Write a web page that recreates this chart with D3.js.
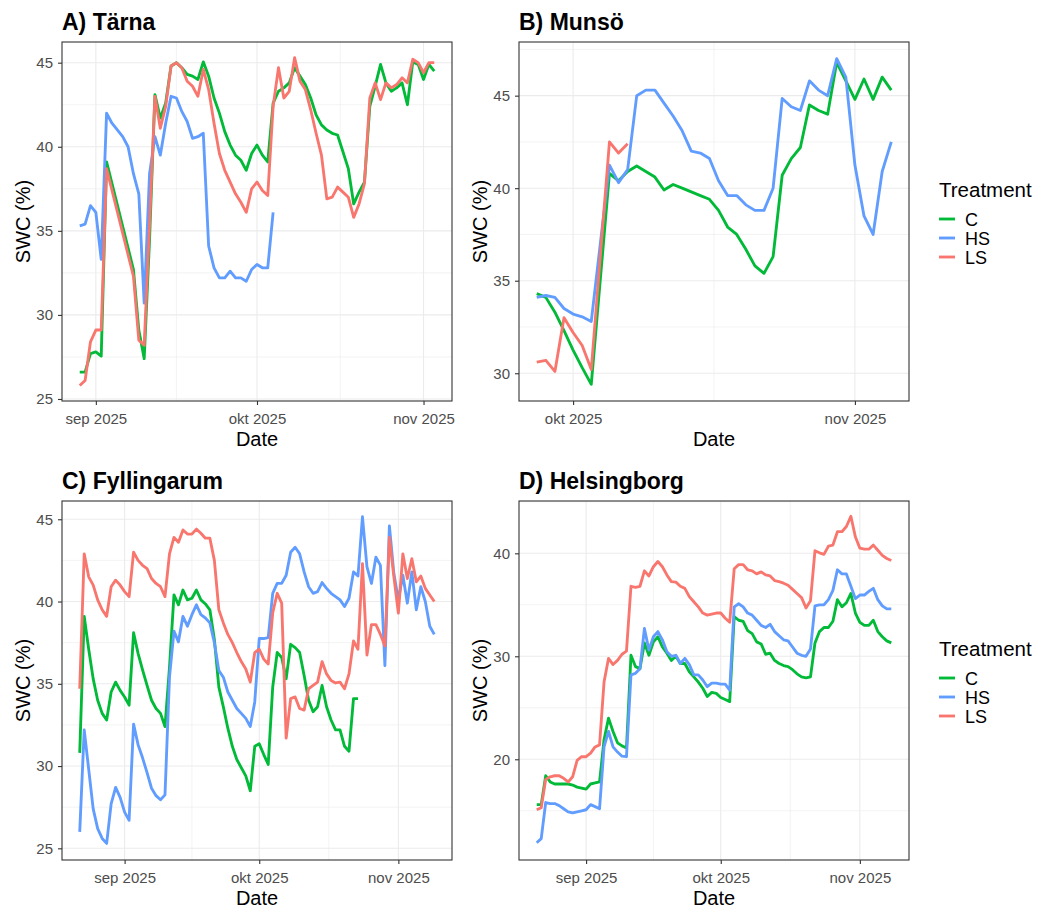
<!DOCTYPE html>
<html>
<head>
<meta charset="utf-8">
<script src="https://cdn.jsdelivr.net/npm/d3@7"></script>
<style>
  body { margin: 0; background: #fff; }
  svg { display: block; }
  text { font-family: "Liberation Sans", Arial, sans-serif; }
</style>
</head>
<body>
<svg id="chart" width="1040" height="909"></svg>
<script>
// Soil water content (SWC, %) per site and treatment.
// Days are counted from 1 September 2025 (day 0).
const treatments = ["C", "HS", "LS"];
const treatmentColours = ["#00BA38", "#619CFF", "#F8766D"];
const monthBreaks = ["2025-09-01", "2025-10-01", "2025-11-01"];
const monthLabels = ["sep 2025", "okt 2025", "nov 2025"];

// A) Tärna
const tarnaDays = [-3, -2, -1, 0, 1, 2, 3, 5, 6, 7, 8, 9, 10, 11, 12, 13, 14, 15, 16, 17, 18, 19, 20, 21, 22,
  23, 24, 25, 26, 27, 28, 29, 30, 31, 32, 33, 34, 35, 36, 37, 38, 39, 40, 41, 42, 43, 44, 45, 46, 47, 48,
  49, 50, 51, 52, 53, 54, 55, 56, 57, 58, 59, 60, 61, 62, 63];
const tarnaC = [26.6, 26.6, 27.7, 27.8, 27.55, 39.1, null, null, null, 32.7, 29.1, 27.4, 34.5, 43.1, 41.7, 42.6,
  44.8, 45.0, 44.7, 44.3, 44.2, 44.0, 45.05, 44.2, 42.9, 42.0, 40.9, 40.1, 39.5, 39.2, 38.6, 39.6, 40.1, 39.5,
  39.1, 42.6, 43.3, 43.5, 43.8, 44.7, 44.2, 43.7, 42.9, 41.9, 41.3, 41.0, 40.8, 40.7, 39.7, 38.7, 36.6, 37.3,
  37.9, 42.4, 43.6, 44.9, 43.8, 43.3, 43.5, 43.8, 42.5, 45.05, 44.9, 44.0, 44.9, 44.5];
const tarnaHS = [35.3, 35.4, 36.5, 36.1, 33.3, 42.0, 41.4, 40.6, 40.0, 38.4, 37.2, 30.7, 38.4, 40.6, 39.5, 41.4,
  43.0, 42.9, 42.1, 41.5, 40.5, 40.6, 40.8, 34.1, 32.8, 32.2, 32.2, 32.6, 32.2, 32.2, 32.0, 32.7, 33.0, 32.8,
  32.8, 36.1, null, null, null, null, null, null, null, null, null, null, null, null, null, null, null, null,
  null, null, null, null, null, null, null, null, null, null, null, null, null, null];
const tarnaLS = [25.8, 26.1, 28.4, 29.1, 29.1, 38.7, null, null, null, 32.3, 28.5, 28.2, 35.4, 43.0, 41.1, 42.4,
  44.8, 45.0, 44.7, 43.9, 43.6, 43.0, 44.6, 43.4, 41.4, 39.6, 38.6, 37.9, 37.2, 36.7, 36.1, 37.5, 37.9, 37.4,
  37.1, 42.4, 44.7, 42.9, 43.3, 45.3, 43.9, 43.4, 42.2, 40.8, 39.5, 36.9, 37.0, 37.6, 37.3, 37.0, 35.8, 36.6,
  37.8, 42.9, 43.8, 42.8, 43.8, 43.5, 43.7, 44.1, 43.8, 45.2, 45.0, 44.4, 45.0, 45.0];

// B) Munsö
const munsoDays = [26, 27, 28, 29, 30, 31, 32, 34, 35, 36, 37, 38, 39, 40, 41, 42, 43, 44, 45, 46, 47, 48, 49,
  50, 51, 52, 53, 54, 55, 56, 57, 58, 59, 60, 61, 62, 63, 64, 65];
const munsoC = [34.3, 34.1, 33.3, 32.3, 31.25, 30.3, 29.4, 40.8, 40.4, 40.9, 41.2, 40.9, 40.6, 39.9, 40.2, 40.0,
  39.8, 39.6, 39.4, 38.8, 37.9, 37.5, 36.7, 35.8, 35.4, 36.3, 40.7, 41.6, 42.2, 44.5, 44.2, 44.0, 46.8, 45.8,
  44.8, 45.9, 44.8, 46.0, 45.3];
const munsoHS = [34.1, 34.2, 34.1, 33.5, 33.2, 33.05, 32.8, 41.25, 40.3, 41.0, 45.0, 45.3, 45.3, 44.6, 43.9, 43.1,
  42.0, 41.9, 41.6, 40.4, 39.6, 39.6, 39.1, 38.8, 38.8, 40.0, 44.85, 44.4, 44.2, 45.8, 45.3, 45.0, 47.0, 46.0,
  41.25, 38.5, 37.5, 40.9, 42.5];
const munsoLS = [30.6, 30.7, 30.1, 33.0, 32.2, 31.5, 30.2, 42.5, 41.9, 42.4, null, null, null, null, null, null,
  null, null, null, null, null, null, null, null, null, null, null, null, null, null, null, null, null, null,
  null, null, null, null, null];

// C) Fyllingarum, daily from day -10 to day 69
const fyllDays = d3.range(-10, 70);
const fyllC = [30.8, 39.1, 37.1, 35.3, 34.0, 33.2, 32.8, 34.5, 35.1, 34.6,
  34.2, 33.7, 38.1, 36.85, 35.85, 34.9, 34.0, 33.5, 33.2, 32.4,
  36.0, 40.4, 39.8, 40.7, 40.1, 40.2, 40.7, 40.1, 39.85, 39.5,
  37.7, 34.8, 33.6, 32.3, 31.2, 30.4, 29.9, 29.4, 28.5, 31.2,
  31.35, 30.7, 30.1, 34.8, 36.9, 36.6, 35.3, 37.4, 37.2, 36.9,
  35.5, 34.0, 33.3, 33.6, 34.9, 33.6, 32.8, 32.2, 32.2, 31.2,
  30.9, 34.1, 34.1, null, null, null, null, null, null, null,
  null, null, null, null, null, null, null, null, null, null];
const fyllHS = [26.0, 32.2, 29.8, 27.4, 26.2, 25.6, 25.3, 27.7, 28.7, 28.1,
  27.2, 26.7, 32.55, 31.3, 30.5, 29.6, 28.65, 28.2, 27.95, 28.25,
  35.4, 38.2, 37.55, 39.1, 38.5, 39.2, 39.8, 39.2, 39.0, 38.7,
  37.5, 35.8, 35.4, 34.5, 34.0, 33.5, 33.2, 32.9, 32.4, 33.9,
  37.75, 37.75, 37.8, 40.5, 41.1, 41.1, 41.6, 43.0, 43.3, 42.9,
  41.8, 40.9, 40.5, 40.6, 41.15, 40.8, 40.5, 40.3, 40.1, 39.7,
  40.2, 41.8, 41.55, 45.15, 42.1, 41.1, 42.7, 42.2, 36.1, 44.6,
  41.7, 40.1, 41.6, 39.9, 41.8, 39.5, 40.9, 40.0, 38.5, 38.0];
const fyllLS = [34.7, 42.9, 41.5, 41.0, 40.1, 39.5, 39.1, 40.9, 41.3, 41.0,
  40.6, 40.3, 43.0, 42.5, 42.2, 42.0, 41.4, 41.1, 40.9, 40.3,
  42.9, 43.9, 43.6, 44.35, 44.1, 44.1, 44.4, 44.15, 43.85, 43.85,
  42.5, 39.5, 38.7, 38.0, 37.5, 36.9, 36.35, 35.9, 35.1, 36.9,
  37.1, 36.5, 36.2, 39.3, 40.5, 39.9, 31.7, 34.1, 34.2, 33.5,
  33.4, 34.7, 34.9, 35.1, 36.35, 35.6, 35.2, 35.05, 35.1, 34.7,
  35.6, 37.6, 37.1, 42.3, 36.75, 38.6, 38.6, 38.0, 37.3, 43.9,
  41.5, 39.3, 42.9, 41.4, 42.6, 41.2, 41.55, 40.8, 40.4, 40.0];

// D) Helsingborg, daily from day -11 to day 68
const hbgDays = d3.range(-11, 69);
const hbgC = [15.6, 15.6, 18.4, 17.8, 17.6, 17.6, 17.6, 17.6, 17.5, 17.3, 17.2,
  17.1, 17.6, 17.7, 17.8, 21.9, 24.0, 22.7, 21.6, 21.3, 21.1,
  30.1, 29.0, 28.8, 31.3, 30.1, 31.4, 31.9, 30.9, 30.3, 29.6,
  30.0, 29.3, 29.3, 28.5, 28.0, 27.5, 26.9, 26.1, 26.5, 26.4,
  26.0, 25.8, 25.6, 33.85, 33.5, 33.4, 32.5, 32.2, 31.4, 31.2,
  30.2, 30.3, 29.6, 29.3, 29.1, 29.0, 28.7, 28.3, 28.0, 27.9,
  28.0, 31.3, 32.4, 32.8, 32.8, 33.4, 35.5, 34.8, 35.2, 36.1,
  34.2, 33.3, 33.0, 33.0, 33.5, 32.4, 31.9, 31.5, 31.3];
const hbgHS = [11.9, 12.3, 15.8, 15.7, 15.7, 15.5, 15.2, 14.9, 14.8, 14.9, 15.0,
  15.1, 15.6, 15.4, 15.2, 21.2, 22.7, 21.2, 20.7, 20.3, 20.25,
  28.2, 28.35, 28.8, 32.7, 30.6, 31.9, 32.4, 31.6, 30.45, 30.0,
  30.1, 29.3, 29.8, 29.2, 28.2, 28.2, 27.7, 27.05, 27.4, 27.4,
  27.3, 27.3, 26.7, 34.8, 35.1, 34.8, 34.2, 34.0, 33.5, 33.0,
  32.8, 33.1, 32.4, 32.0, 31.6, 31.5, 30.9, 30.3, 30.1, 30.0,
  30.7, 34.9, 35.0, 35.0, 35.5, 36.4, 38.4, 38.0, 38.0, 36.8,
  35.6, 35.95, 35.95, 36.3, 36.6, 35.5, 34.9, 34.6, 34.6];
const hbgLS = [15.1, 15.3, 18.05, 18.3, 18.4, 18.4, 18.15, 17.8, 18.3, 19.9, 20.25,
  20.25, 20.6, 21.2, 21.4, 27.5, 29.8, 29.2, 29.6, 30.2, 30.5,
  36.8, 36.7, 36.8, 38.3, 37.8, 38.7, 39.2, 38.7, 37.9, 37.25,
  37.2, 36.8, 36.6, 35.8, 35.3, 34.8, 34.2, 34.0, 34.1, 34.2,
  34.2, 33.7, 33.3, 38.5, 38.9, 38.9, 38.4, 38.3, 38.0, 38.2,
  37.9, 37.8, 37.35, 37.25, 37.1, 36.9, 36.5, 36.1, 35.7, 34.7,
  35.4, 40.25, 40.05, 39.9, 40.7, 40.8, 42.1, 42.1, 42.6, 43.6,
  41.6, 40.5, 40.4, 40.4, 40.8, 40.3, 39.8, 39.5, 39.3];

// Panel layout (pixels), y-axis limits and break spacing
const panelW = 390, panelH = 359;
const panels = [
  { title: "A) Tärna", days: tarnaDays, series: [tarnaC, tarnaHS, tarnaLS], left: 62, top: 42, yDomain: [24.88, 46.23], yStep: 5 },
  { title: "B) Munsö", days: munsoDays, series: [munsoC, munsoHS, munsoLS], left: 519, top: 42, yDomain: [28.5, 47.9], yStep: 5 },
  { title: "C) Fyllingarum", days: fyllDays, series: [fyllC, fyllHS, fyllLS], left: 62, top: 501, yDomain: [24.29, 46.11], yStep: 5 },
  { title: "D) Helsingborg", days: hbgDays, series: [hbgC, hbgHS, hbgLS], left: 519, top: 501, yDomain: [10.22, 45.08], yStep: 10 }
];

const svg = d3.select("#chart");
const dayToDate = d => new Date(Date.UTC(2025, 8, 1 + d));
const breakDates = monthBreaks.map(s => new Date(s + "T00:00:00Z"));

panels.forEach(p => {
  const g = svg.append("g");
  const x0 = p.left, x1 = p.left + panelW, y0 = p.top, y1 = p.top + panelH;

  // x: data extent expanded by 5% on each side
  const used = p.days.filter((d, i) => p.series.some(s => s[i] != null));
  const t0 = dayToDate(d3.min(used)).getTime(), t1 = dayToDate(d3.max(used)).getTime();
  const pad = (t1 - t0) * 0.05;
  const x = d3.scaleUtc().domain([new Date(t0 - pad), new Date(t1 + pad)]).range([x0, x1]);
  const y = d3.scaleLinear().domain(p.yDomain).range([y1, y0]);

  const [xd0, xd1] = x.domain();
  const xMajor = breakDates.filter(d => d >= xd0 && d <= xd1);
  const xMinor = [];
  for (let i = 0; i < breakDates.length - 1; i++) {
    const m = new Date((breakDates[i].getTime() + breakDates[i + 1].getTime()) / 2);
    if (m >= xd0 && m <= xd1) xMinor.push(m);
  }
  const step = p.yStep;
  const yMajor = d3.range(Math.ceil(p.yDomain[0] / step) * step, p.yDomain[1] + 1e-9, step);
  const yMinor = d3.range(yMajor[0] - step / 2, yMajor[yMajor.length - 1] + step, step)
    .filter(v => v >= p.yDomain[0] && v <= p.yDomain[1]);

  // panel background and grid
  g.append("rect").attr("x", x0).attr("y", y0).attr("width", panelW).attr("height", panelH).attr("fill", "#fff");
  const grid = g.append("g").attr("stroke", "#EBEBEB").attr("fill", "none");
  grid.selectAll(".ymin").data(yMinor).join("line")
    .attr("x1", x0).attr("x2", x1).attr("y1", d => y(d)).attr("y2", d => y(d)).attr("stroke-width", 0.6);
  grid.selectAll(".xmin").data(xMinor).join("line")
    .attr("y1", y0).attr("y2", y1).attr("x1", d => x(d)).attr("x2", d => x(d)).attr("stroke-width", 0.6);
  grid.selectAll(".ymaj").data(yMajor).join("line")
    .attr("x1", x0).attr("x2", x1).attr("y1", d => y(d)).attr("y2", d => y(d)).attr("stroke-width", 1.1);
  grid.selectAll(".xmaj").data(xMajor).join("line")
    .attr("y1", y0).attr("y2", y1).attr("x1", d => x(d)).attr("x2", d => x(d)).attr("stroke-width", 1.1);

  // treatment lines
  const line = d3.line().x(d => x(d.date)).y(d => y(d.v));
  p.series.forEach((vals, k) => {
    const pts = p.days.map((d, i) => ({ date: dayToDate(d), v: vals[i] })).filter(d => d.v != null);
    g.append("path").datum(pts)
      .attr("d", line)
      .attr("fill", "none")
      .attr("stroke", treatmentColours[k])
      .attr("stroke-width", 2.85)
      .attr("stroke-linejoin", "round")
      .attr("stroke-linecap", "butt");
  });

  // panel border
  g.append("rect").attr("x", x0).attr("y", y0).attr("width", panelW).attr("height", panelH)
    .attr("fill", "none").attr("stroke", "#333333").attr("stroke-width", 1.1);

  // axes
  const xAxis = d3.axisBottom(x).tickValues(xMajor)
    .tickFormat(d => monthLabels[breakDates.findIndex(b => b.getTime() === d.getTime())])
    .tickSize(4).tickPadding(8);
  const gx = g.append("g").attr("transform", `translate(0,${y1})`).call(xAxis);
  const yAxis = d3.axisLeft(y).tickValues(yMajor).tickSize(4).tickPadding(5);
  const gy = g.append("g").attr("transform", `translate(${x0},0)`).call(yAxis);
  [gx, gy].forEach(a => {
    a.select(".domain").remove();
    a.selectAll(".tick line").attr("stroke", "#333333").attr("stroke-width", 1.1);
    a.selectAll(".tick text").attr("fill", "#4D4D4D").style("font-size", "15px")
      .style("font-family", '"Liberation Sans", Arial, sans-serif');
  });

  // titles
  g.append("text").attr("x", x0).attr("y", y0 - 12)
    .style("font-size", "23px").style("font-weight", "bold").attr("fill", "#000").text(p.title);
  g.append("text").attr("x", (x0 + x1) / 2).attr("y", y1 + 45)
    .attr("text-anchor", "middle").style("font-size", "20px").attr("fill", "#000").text("Date");
  g.append("text").attr("transform", `translate(${x0 - 32},${(y0 + y1) / 2}) rotate(-90)`)
    .attr("text-anchor", "middle").style("font-size", "20px").attr("fill", "#000").text("SWC (%)");
});

// one legend per row of panels
[0, 459].forEach(off => {
  const lg = svg.append("g").attr("transform", `translate(939,${off})`);
  lg.append("text").attr("x", 0).attr("y", 197).style("font-size", "20.5px").attr("fill", "#000").text("Treatment");
  treatments.forEach((t, i) => {
    const yy = 219 + i * 19;
    lg.append("line").attr("x1", 0).attr("x2", 16).attr("y1", yy).attr("y2", yy)
      .attr("stroke", treatmentColours[i]).attr("stroke-width", 2.85);
    lg.append("text").attr("x", 26).attr("y", yy + 6.5).style("font-size", "18px").attr("fill", "#000").text(t);
  });
});
</script>
</body>
</html>
